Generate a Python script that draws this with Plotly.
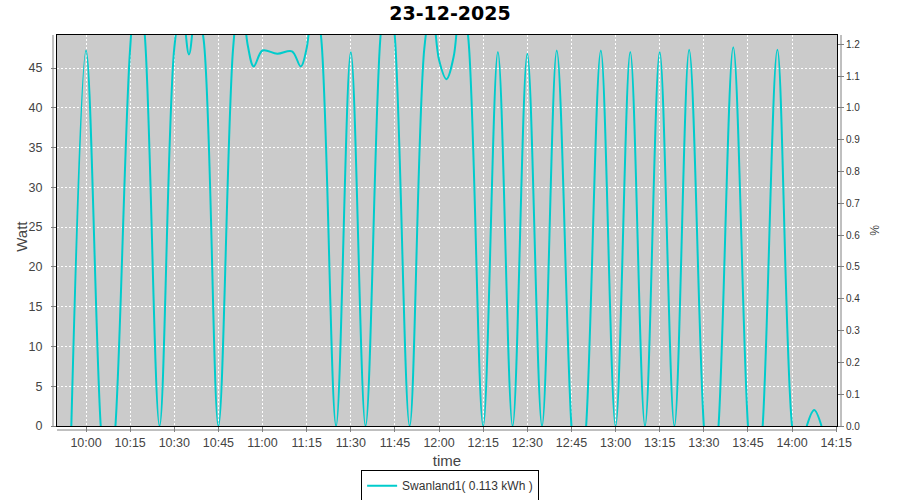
import plotly.graph_objects as go

# ---- data (time of day, Watt) ----
day = "2025-12-23"
times = [
    "09:55", "10:00", "10:05", "10:07:30", "10:10", "10:15", "10:17:30", "10:20",
    "10:25", "10:30", "10:32:30", "10:35", "10:37:30", "10:40", "10:45",
    "10:50", "10:52:30", "10:55", "10:57", "11:00", "11:05", "11:10", "11:13",
    "11:15", "11:17:30", "11:20", "11:25", "11:30", "11:35", "11:40", "11:42:30",
    "11:45", "11:50", "11:55", "11:57:30", "12:00", "12:02:30", "12:05", "12:07:30",
    "12:10", "12:15", "12:20", "12:25", "12:30", "12:35", "12:40", "12:45",
    "12:47:30", "12:50", "12:55", "13:00", "13:05", "13:10", "13:15", "13:20",
    "13:25", "13:30", "13:32:30", "13:35", "13:40", "13:45", "13:47:30", "13:50",
    "13:55", "14:00", "14:02:30", "14:05", "14:07:30", "14:10",
]
watts = [
    0, 47.2, 0, -10, 0, 47.5, 57, 49,
    0, 47.5, 53, 46.7, 53, 48.5, 0,
    47.5, 55, 47.8, 45.2, 47.2, 46.8, 47.1, 45.2,
    47.5, 55, 48.5, 0, 47.0, 0, 48.5, 57,
    48.8, 0, 47.5, 53, 46.0, 43.6, 46.5, 55,
    48.5, 0, 47.0, 0, 46.8, 0, 47.2, 0,
    -10, 0, 47.2, 0, 47.0, 0, 47.0, 0,
    47.3, 0, -10, 0, 47.6, 0, -10, 0,
    47.3, 0, -5, 0, 2.0, 0,
]
series_name = "Swanland1( 0.113 kWh )"
chart_title = "23-12-2025"
y_title = "Watt"
y2_title = "%"
x_title = "time"
x_range = ["09:50:08", "14:15:16"]
watt_range = [0, 49.15]
pct_range = [0, 1.229]

x_full = [f"{day} {t}" if t.count(":") == 2 else f"{day} {t}:00" for t in times]

fig = go.Figure()
fig.add_trace(go.Scatter(
    x=x_full, y=watts, mode="lines", name=series_name,
    line=dict(color="#00CCCC", width=2, shape="spline", smoothing=1),
))
fig.add_trace(go.Scatter(x=[], y=[], yaxis="y2", showlegend=False, hoverinfo="skip"))

FONT = "Liberation Sans, Arial, sans-serif"
tick_font = dict(family=FONT, size=12.5, color="#444444")
grid_dash = "2px,2px"

fig.update_layout(
    width=900, height=500,
    margin=dict(l=57, r=63, t=35, b=74, autoexpand=False),
    paper_bgcolor="white",
    plot_bgcolor="#CBCBCB",
    title=dict(text=chart_title, x=0.5, xanchor="center", y=1 - 13 / 500, yanchor="middle",
               font=dict(family="DejaVu Sans, sans-serif", size=19, color="black", weight="bold")),
    xaxis=dict(
        type="date", automargin=False,
        range=[f"{day} {x_range[0]}", f"{day} {x_range[1]}"],
        tick0=f"{day} 10:00:00", dtick=15 * 60 * 1000, tickformat="%H:%M",
        showgrid=True, gridcolor="white", griddash=grid_dash, gridwidth=1,
        showline=True, linecolor="black", linewidth=1, mirror=True,
        ticks="outside", ticklen=5, tickcolor="gray", tickfont=tick_font,
        zeroline=False,
        title=dict(text=x_title, standoff=6, font=dict(family=FONT, size=15, color="#444444")),
    ),
    yaxis=dict(
        range=watt_range, tick0=0, dtick=5, automargin=False,
        showgrid=True, gridcolor="white", griddash=grid_dash, gridwidth=1,
        showline=True, linecolor="black", linewidth=1, mirror=True,
        ticks="outside", ticklen=5, tickcolor="gray", tickfont=tick_font,
        ticklabelstandoff=6,
        zeroline=False,
    ),
    yaxis2=dict(
        overlaying="y", side="right", range=pct_range, tick0=0, dtick=0.1, tickformat=".1f",
        automargin=False,
        showgrid=False, zeroline=False, showline=False,
        ticks="outside", ticklen=6, tickcolor="gray",
        tickfont=dict(family=FONT, size=10, color="#333333"),
    ),
    legend=dict(
        orientation="h", x=0.504, xanchor="center", y=-0.113, yanchor="top",
        bordercolor="black", borderwidth=1, bgcolor="white", itemwidth=30,
        font=dict(family=FONT, size=12, color="#333333"),
    ),
    showlegend=True,
    shapes=[
        dict(type="line", xref="paper", yref="paper", xsizemode="pixel", xanchor=0,
             x0=-4, x1=-4, y0=0, y1=1, line=dict(color="gray", width=1)),
        dict(type="line", xref="paper", yref="paper", xsizemode="pixel", xanchor=1,
             x0=4, x1=4, y0=0, y1=1, line=dict(color="gray", width=1)),
        dict(type="line", xref="paper", yref="paper", ysizemode="pixel", yanchor=0,
             y0=-4, y1=-4, x0=0, x1=1, line=dict(color="gray", width=1)),
    ],
    annotations=[
        dict(text=y_title, xref="paper", yref="paper", x=0, y=0.484, xshift=-35,
             xanchor="center", yanchor="middle", showarrow=False,
             textangle=-90, font=dict(family=FONT, size=15, color="#444444")),
        dict(text=y2_title, xref="paper", yref="paper", x=1, y=0.501, xshift=37,
             xanchor="center", yanchor="middle", showarrow=False,
             textangle=90, font=dict(family=FONT, size=12, color="#444444")),
    ],
)

fig.write_html("out.html", config={"displayModeBar": False},
               post_script="document.body.style.margin='0';")
